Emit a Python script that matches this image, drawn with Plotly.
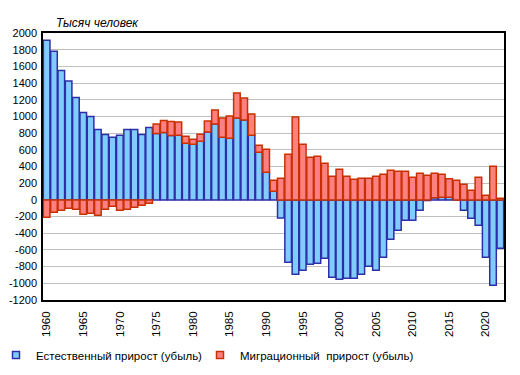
import plotly.graph_objects as go

years = list(range(1960, 2023))

natural = [1912, 1780, 1552, 1424, 1228, 1048, 1000, 844, 784, 752,
           776, 844, 844, 784, 868, 796, 808, 772, 776, 680,
           668, 704, 812, 908, 752, 740, 980, 956, 776, 572,
           332, 104, -216, -748, -892, -844, -772, -760, -700, -928,
           -952, -940, -940, -892, -796, -844, -688, -472, -364, -244,
           -244, -124, -8, 24, 32, 32, -2, -124, -220, -304,
           -688, -1024, -580]

migration = [-208, -148, -124, -100, -112, -172, -160, -184, -112, -76,
             -124, -112, -88, -64, -40, 112, 144, 168, 156, 84,
             60, 84, 132, 168, 228, 264, 300, 264, 252, 84,
             276, 132, 260, 548, 992, 668, 512, 524, 440, 284,
             368, 284, 248, 260, 260, 284, 308, 356, 344, 344,
             272, 320, 296, 296, 276, 220, 236, 188, 116, 272,
             56, 404, 20]

y_ticks = list(range(-1200, 2001, 200))
x_ticks = list(range(1960, 2021, 5))

names = ["Естественный прирост (убыль)", "Миграционный  прирост (убыль)"]
fills = ["#80CCFF", "#FF8080"]
edges = ["#2E2EA6", "#C83000"]
legends = ["legend", "legend2"]

fig = go.Figure()
for vals, nm, fc, ec, lg in zip([natural, migration], names, fills, edges, legends):
    fig.add_trace(go.Bar(x=years, y=vals, name=nm, marker=dict(color=fc, line=dict(color=ec, width=1.5)),
                         showlegend=False))
    fig.add_trace(go.Scatter(x=[None], y=[None], mode="markers", name=nm, legend=lg,
                             marker=dict(symbol="square", size=7, color=fc, line=dict(color=ec, width=1.5))))

# page has an 8px body margin; figure sized/positioned to compensate
OFF = 8
W, H = 504, 359
L, R, T, B = 35, 8, 25, 67
pw, ph = W - L - R, H - T - B

def px_x(p):
    return (p - OFF - L) / pw

def px_y(p):
    return (OFF + H - B - p) / ph

leg_common = dict(orientation="h", yanchor="middle", y=px_y(355), xanchor="left",
                  font=dict(size=11.5, color="#000000"), itemwidth=30, bgcolor="rgba(0,0,0,0)")

fig.update_layout(
    width=W, height=H,
    margin=dict(l=L, r=R, t=T, b=B, autoexpand=False),
    barmode="relative", bargap=0.1,
    paper_bgcolor="white", plot_bgcolor="white",
    font=dict(family="Liberation Sans, Arial, sans-serif", size=12, color="#000000"),
    legend=dict(x=px_x(-4), **leg_common),
    legend2=dict(x=px_x(200), **leg_common),
    annotations=[dict(text="<i>Тысяч человек</i>", xref="paper", yref="paper", x=px_x(54), y=px_y(23),
                      xanchor="left", yanchor="middle", showarrow=False,
                      font=dict(size=12, color="#000000"))],
)
fig.update_xaxes(range=[1959.5, 2022.5], tickmode="array", tickvals=x_ticks,
                 ticktext=[str(v) for v in x_ticks], tickangle=-90,
                 showgrid=False, showline=True, linecolor="black", linewidth=1.5, mirror=True,
                 zeroline=False, ticks="", tickfont=dict(size=11.5), ticklabelstandoff=5)
fig.update_yaxes(range=[-1200, 2000], tickmode="array", tickvals=y_ticks,
                 ticktext=[str(v) for v in y_ticks],
                 showgrid=True, gridcolor="#C0C0C0", gridwidth=1,
                 showline=True, linecolor="black", linewidth=1.5, mirror=True,
                 zeroline=False, ticks="", tickfont=dict(size=11),
                 ticklabelstandoff=2)

fig.write_html("out.html")
